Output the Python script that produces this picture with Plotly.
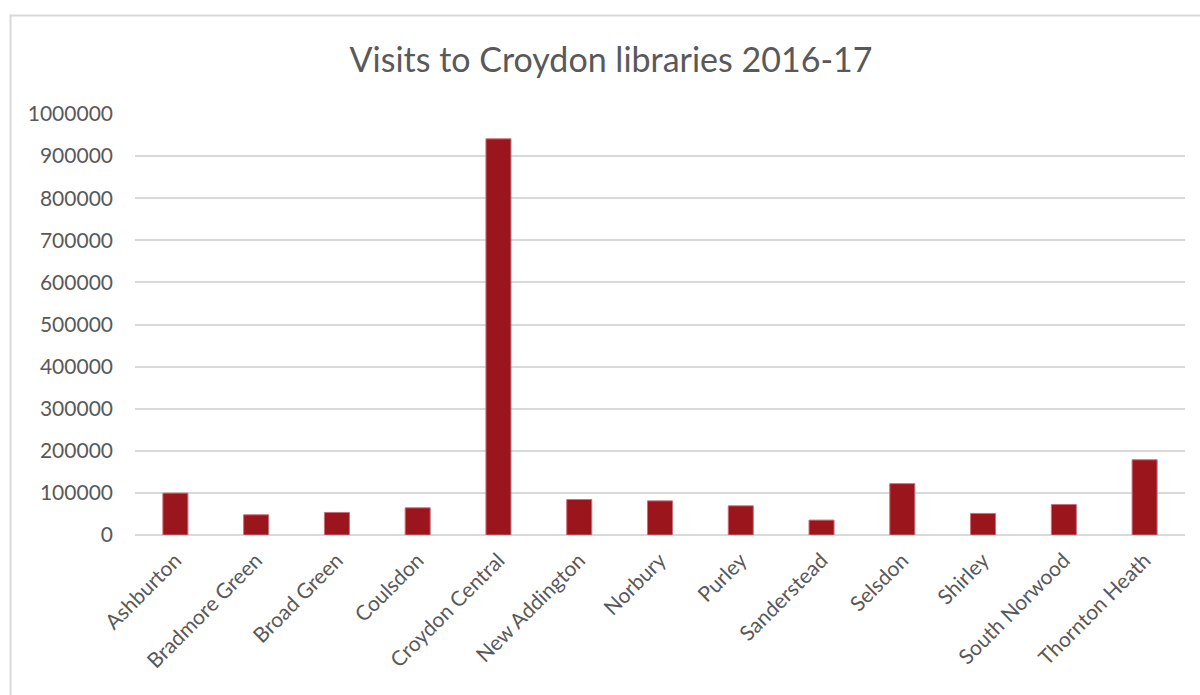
import plotly.graph_objects as go

# Library visit counts, 2016-17
libraries = [
    "Ashburton", "Bradmore Green", "Broad Green", "Coulsdon", "Croydon Central",
    "New Addington", "Norbury", "Purley", "Sanderstead", "Selsdon",
    "Shirley", "South Norwood", "Thornton Heath",
]
visits = [
    99500, 48000, 53500, 64600, 941000,
    84300, 81100, 69300, 35400, 122000,
    51200, 72400, 178700,
]
y_ticks = list(range(0, 1000001, 100000))

W, H = 1200, 695
L, R, T, B = 135, 15, 114, 160

FONT = "Lato, 'Open Sans', sans-serif"
TEXT = "#595959"
GRID = "#d9d9d9"

fig = go.Figure(
    go.Bar(
        x=libraries,
        y=visits,
        marker=dict(color="#9b151d", line=dict(color="#c9707a", width=1)),
        width=0.31,
    )
)

# outer chart frame (pixel positions converted to paper coordinates)
pw, ph = W - L - R, H - T - B
def px_x(p):
    return (p - L) / pw
def px_y(p):
    return (H - B - p) / ph

fig.add_shape(
    type="rect", xref="paper", yref="paper",
    x0=px_x(10.5), x1=px_x(1260), y0=px_y(15.5), y1=px_y(760),
    line=dict(color=GRID, width=2), fillcolor="rgba(0,0,0,0)", layer="below",
)

fig.update_layout(
    width=W, height=H,
    margin=dict(l=L, r=R, t=T, b=B),
    paper_bgcolor="white", plot_bgcolor="white",
    font=dict(family=FONT, color=TEXT, size=20),
    title=dict(
        text="Visits to Croydon libraries 2016-17",
        x=611 / W, xanchor="center",
        y=1 - 60 / H, yanchor="middle",
        font=dict(size=34, color=TEXT, family=FONT),
    ),
    showlegend=False,
    bargap=0.69,
)
fig.update_xaxes(
    tickangle=-45, showgrid=False, showline=False, ticks="",
    ticklabelstandoff=8,
    tickfont=dict(size=21, color=TEXT),
)
fig.update_yaxes(
    range=[0, 1000000], tickvals=y_ticks, tickformat="d",
    showgrid=True, gridcolor=GRID, gridwidth=2, zeroline=True,
    zerolinecolor=GRID, zerolinewidth=2, showline=False, ticks="",
    ticklabelstandoff=21, tickfont=dict(size=21, color=TEXT),
)

fig.write_html("out.html")
